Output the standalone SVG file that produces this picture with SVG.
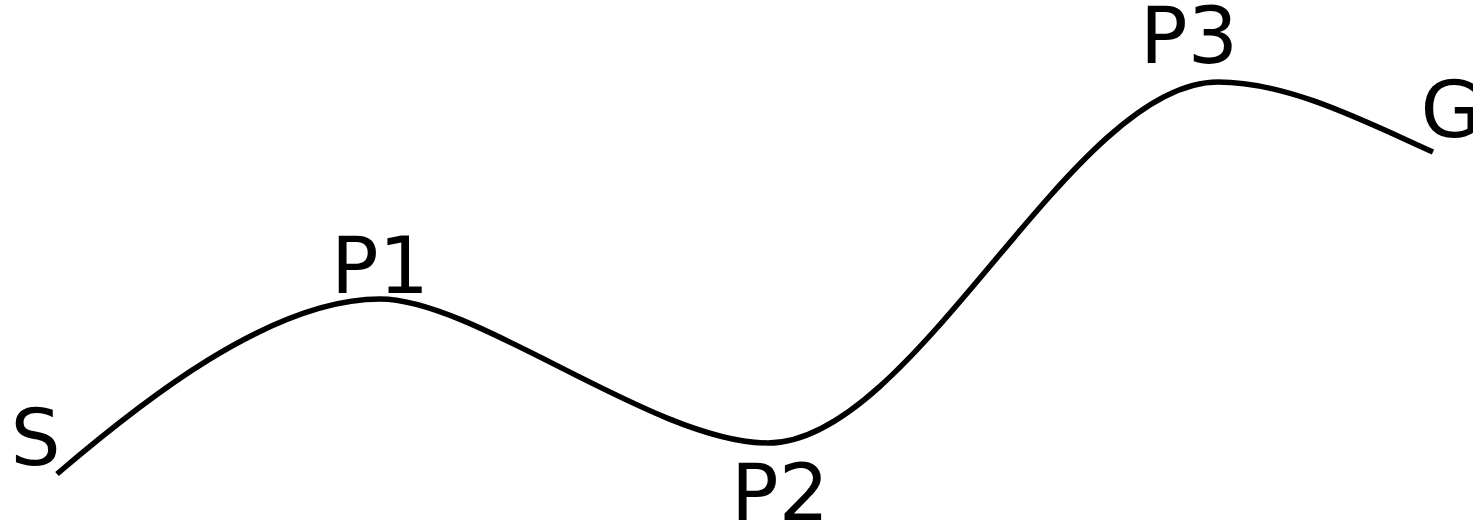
<svg xmlns="http://www.w3.org/2000/svg" width="1473" height="525" viewBox="0 0 1473 525">
<style>
.lbl{font-family:"DejaVu Sans",Verdana,sans-serif;font-size:79px;fill:#000}
.curve{fill:none;stroke:#000;stroke-width:5.5}
</style>
<rect width="1473" height="525" fill="#fff"/>
<g id="connectors">
<path class="curve" d="M57,474 C140,403 270,299 380,299 C476,299 655,443 768,443 C915,443 1071,82 1218,82 C1288,82 1363,120.5 1433,152"/>
</g>
<g id="S"><text class="lbl" x="10.5" y="465">S</text></g>
<g id="P1"><text class="lbl" x="331" y="293">P1</text></g>
<g id="P2"><text class="lbl" x="731" y="520">P2</text></g>
<g id="P3"><text class="lbl" x="1140" y="63">P3</text></g>
<g id="G"><text class="lbl" x="1420.5" y="137">G</text></g>
</svg>
